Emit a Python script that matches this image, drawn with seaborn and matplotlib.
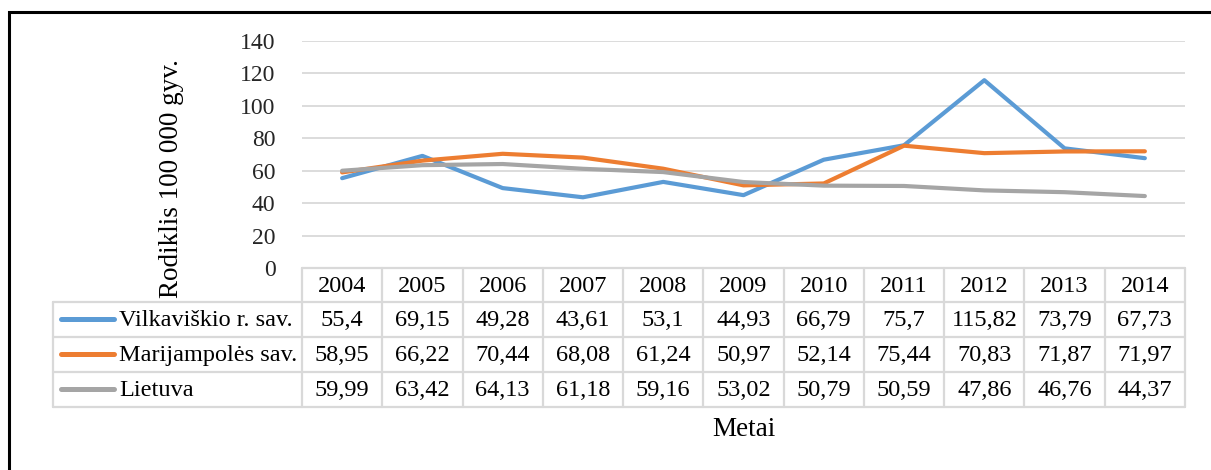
import matplotlib
matplotlib.use("Agg")
import matplotlib.pyplot as plt
import matplotlib.transforms as mtransforms
from matplotlib.patches import Rectangle
from matplotlib.lines import Line2D
import seaborn as sns
import pandas as pd

years = [2004, 2005, 2006, 2007, 2008, 2009, 2010, 2011, 2012, 2013, 2014]
vilkaviskio = [55.4, 69.15, 49.28, 43.61, 53.1, 44.93, 66.79, 75.7, 115.82, 73.79, 67.73]
marijampoles = [58.95, 66.22, 70.44, 68.08, 61.24, 50.97, 52.14, 75.44, 70.83, 71.87, 71.97]
lietuva = [59.99, 63.42, 64.13, 61.18, 59.16, 53.02, 50.79, 50.59, 47.86, 46.76, 44.37]
series_names = ["Vilkaviškio r. sav.", "Marijampolės sav.", "Lietuva"]
y_ticks = [0, 20, 40, 60, 80, 100, 120, 140]
y_label = "Rodiklis 100 000 gyv."
x_label = "Metai"

colors = ["#5B9BD5", "#ED7D31", "#A5A5A5"]
series_values = [vilkaviskio, marijampoles, lietuva]

rows = []
for name, vals in zip(series_names, series_values):
    for i, v in enumerate(vals):
        rows.append({"idx": i, "value": v, "series": name})
df = pd.DataFrame(rows)

sns.set_theme(style="white")
plt.rcParams["font.family"] = ["Liberation Serif", "DejaVu Serif"]

W, H = 1211, 470
fig = plt.figure(figsize=(W / 100, H / 100), dpi=100)
fig.patch.set_facecolor("white")

ax_left, ax_right, ax_top, ax_bot = 302, 1185, 41, 268
ax = fig.add_axes([ax_left / W, 1 - ax_bot / H, (ax_right - ax_left) / W, (ax_bot - ax_top) / H])

sns.lineplot(data=df, x="idx", y="value", hue="series", palette=colors,
             hue_order=series_names, linewidth=3.0, ax=ax, legend=False,
             solid_capstyle="round")

ax.set_xlim(-0.5, len(years) - 0.5)
ax.set_ylim(0, 140)
ax.set_yticks(y_ticks)
ax.set_yticklabels([str(t) for t in y_ticks], fontsize=17)
ax.set_xticks([])
ax.set_xlabel("")
ax.set_ylabel("")
for s in ax.spines.values():
    s.set_visible(False)
ax.tick_params(axis="y", length=0, pad=19)
for t in y_ticks[1:]:
    ax.axhline(t, color="#D9D9D9", lw=1.3, zorder=0)

grid_c = "#D9D9D9"
tr = mtransforms.blended_transform_factory(ax.transData, fig.transFigure)

def fy(px):
    return 1 - px / H

def fx(px):
    return px / W

# table geometry (pixel rows)
row_y = [268, 302, 337, 372, 407]
table_left = 53

fig.add_artist(Line2D([fx(ax_left), fx(ax_right)], [fy(row_y[0])] * 2, color=grid_c, lw=1.6))
for yy in row_y[1:]:
    fig.add_artist(Line2D([fx(table_left), fx(ax_right)], [fy(yy)] * 2, color=grid_c, lw=1.6))
fig.add_artist(Line2D([fx(table_left)] * 2, [fy(row_y[1]), fy(row_y[-1])], color=grid_c, lw=1.6))
for i in range(len(years) + 1):
    xb = i - 0.5
    ln = Line2D([xb, xb], [fy(row_y[0]), fy(row_y[-1])], color=grid_c, lw=1.6, transform=tr)
    fig.add_artist(ln)

fs = 17.5
for i, yv in enumerate(years):
    fig.text(i, fy((row_y[0] + row_y[1]) / 2 + 1), str(yv), transform=tr,
             ha="center", va="center", fontsize=fs, color="black")

def fmt(v):
    return str(v).replace(".", ",")

for r, (name, vals, c) in enumerate(zip(series_names, series_values, colors)):
    yc = fy((row_y[r + 1] + row_y[r + 2]) / 2 + 1)
    fig.add_artist(Line2D([fx(61), fx(114)], [fy((row_y[r + 1] + row_y[r + 2]) / 2 - 1)] * 2,
                          color=c, lw=3.6, solid_capstyle="round"))
    fig.text(fx(119), yc, name, ha="left", va="center", fontsize=fs, color="black")
    for i, v in enumerate(vals):
        fig.text(i, yc, fmt(v), transform=tr, ha="center", va="center", fontsize=fs, color="black")

fig.text(fx(171), fy(179), y_label, rotation=90, ha="center", va="center", fontsize=19.5, color="black")
fig.text(fx((ax_left + ax_right) / 2), fy(429), x_label, ha="center", va="center", fontsize=19.5, color="black")

fig.add_artist(Rectangle((fx(9), -0.1), 1.2, fy(12) + 0.1, transform=fig.transFigure,
                         fill=False, edgecolor="black", lw=2.2))

fig.savefig("out.png", dpi=100)
